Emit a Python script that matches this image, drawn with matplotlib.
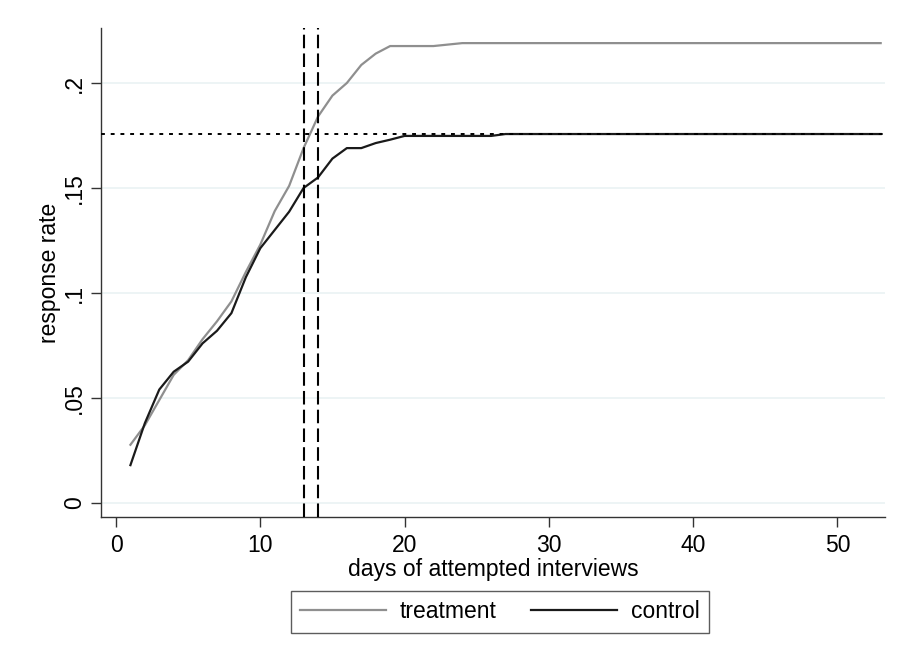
#!/usr/bin/env python
"""Cumulative response rate by days of attempted interviews."""

import matplotlib

matplotlib.use("Agg")
import matplotlib.pyplot as plt
import numpy as np

plt.rcParams["font.family"] = ["Liberation Sans", "DejaVu Sans"]

days = np.arange(1, 54)

treatment_head = [0.0277, 0.037, 0.049, 0.061, 0.068, 0.078, 0.0865, 0.096,
                  0.110, 0.123, 0.139, 0.151, 0.169, 0.184, 0.194, 0.200,
                  0.2086, 0.214, 0.2176, 0.2176, 0.2176, 0.2176, 0.2183]
treatment_tail = 0.2190

control_head = [0.018, 0.038, 0.054, 0.0625, 0.0673, 0.076, 0.082, 0.0904,
                0.1075, 0.1213, 0.130, 0.1387, 0.150, 0.155, 0.164, 0.169,
                0.169, 0.1714, 0.173, 0.1748, 0.1748, 0.1748, 0.1748, 0.1748,
                0.1748, 0.1748]
control_tail = 0.1757

treatment = treatment_head + [treatment_tail] * (len(days) - len(treatment_head))
control = control_head + [control_tail] * (len(days) - len(control_head))

cutoff_days = [13, 14]
reference_rate = control_tail

W, H = 904, 655
fs = 16.5
fig = plt.figure(figsize=(W / 100, H / 100), dpi=100)
ax = fig.add_axes([101 / W, 1 - 517 / H, (885 - 101) / W, (517 - 28) / H])

grid_color = "#eaf2f3"
yticks = [0, 0.05, 0.1, 0.15, 0.2]
ytick_labels = ["0", ".05", ".1", ".15", ".2"]
for y in yticks:
    ax.axhline(y, color=grid_color, lw=1.2, zorder=0)

ax.plot(days, treatment, color="#8f8f8f", lw=1.6, label="treatment", zorder=3)
ax.plot(days, control, color="#1a1a1a", lw=1.6, label="control", zorder=3)

for d in cutoff_days:
    ax.axvline(d, color="black", lw=1.5, ls=(0, (6.5, 2.5)), zorder=4)
ax.axhline(reference_rate, color="black", lw=1.4, ls=(0, (2, 3)), zorder=4)

ax.set_xlim(-1.04, 53.3)
ax.set_ylim(-0.0067, 0.2262)
ax.set_xticks([0, 10, 20, 30, 40, 50])
ax.set_yticks(yticks)
ax.set_yticklabels(ytick_labels, rotation=90, va="center")

for side in ("top", "right"):
    ax.spines[side].set_visible(False)
for side in ("left", "bottom"):
    ax.spines[side].set_color("#333333")
    ax.spines[side].set_linewidth(1.0)

ax.tick_params(axis="both", direction="out", length=7, width=1.0,
               color="#333333", labelsize=fs, pad=4)
ax.tick_params(axis="x", pad=5)
ax.set_xlabel("days of attempted interviews", fontsize=fs, labelpad=1)
ax.set_ylabel("response rate", fontsize=fs, labelpad=1)

leg = fig.legend(loc="center", bbox_to_anchor=(500 / W, 1 - 612 / H), ncol=2,
                 frameon=True, fancybox=False, fontsize=fs, handlelength=3.75,
                 columnspacing=1.5, handletextpad=0.6, borderpad=0.4,
                 borderaxespad=0)
leg.get_frame().set_edgecolor("#333333")
leg.get_frame().set_linewidth(1.0)

fig.savefig("out.png", dpi=100)
